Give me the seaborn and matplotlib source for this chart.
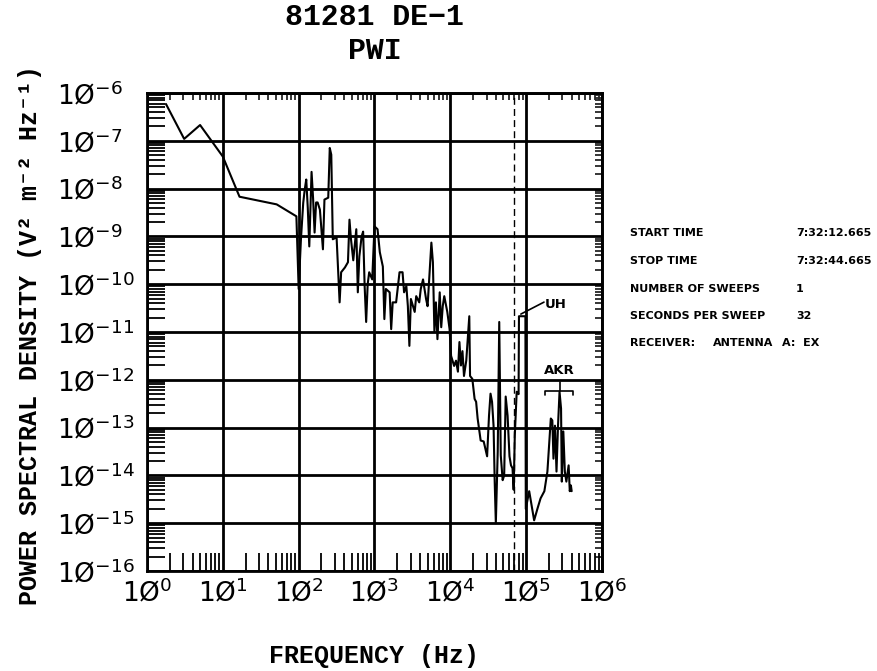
import numpy as np
import pandas as pd
import matplotlib
matplotlib.use("Agg")
import matplotlib.pyplot as plt
import seaborn as sns
from matplotlib.ticker import FixedLocator, LogLocator, NullFormatter, FixedFormatter

# ---- spectrum (log10 values) ----
log_freq = [
    0.25, 0.49, 0.70, 1.00, 1.22, 1.71, 1.97,
    2.00, 2.03, 2.06, 2.08, 2.10, 2.12, 2.14, 2.17, 2.19, 2.21, 2.23, 2.25, 2.28,
    2.32, 2.34, 2.39, 2.41, 2.43, 2.45, 2.50, 2.54, 2.56, 2.61, 2.65, 2.67, 2.69,
    2.72, 2.76, 2.78, 2.80, 2.83, 2.85, 2.87, 2.89, 2.91, 2.93, 2.97, 3.00,
    3.04, 3.07, 3.11, 3.13, 3.15, 3.20, 3.22, 3.24, 3.285, 3.33, 3.37, 3.39, 3.42,
    3.44, 3.46, 3.48, 3.53, 3.55, 3.59, 3.61, 3.64, 3.68, 3.70, 3.75, 3.77, 3.79,
    3.81, 3.83, 3.86, 3.88, 3.90, 3.92, 3.96, 3.99,
    4.01, 4.05, 4.075, 4.10, 4.12, 4.14, 4.16, 4.18, 4.21, 4.25, 4.26, 4.29, 4.32,
    4.34, 4.36, 4.40, 4.44, 4.485, 4.51, 4.53, 4.55, 4.57, 4.585, 4.60, 4.625,
    4.645, 4.665, 4.69, 4.71, 4.73, 4.755, 4.78, 4.80, 4.82, 4.835, 4.85, 4.875,
    4.90, 4.905, 4.99, 4.995,
    5.04, 5.105, 5.15, 5.19, 5.24, 5.26, 5.28, 5.325, 5.345, 5.36, 5.38, 5.40,
    5.42, 5.44, 5.46, 5.47, 5.49, 5.51, 5.53, 5.56, 5.575, 5.59, 5.60,
]
log_psd = [
    -6.23, -6.96, -6.67, -7.33, -8.17, -8.33, -8.58,
    -10.10, -9.06, -8.30, -8.02, -7.81, -8.40, -9.21, -7.65, -8.20, -8.92, -8.29, -8.29, -8.44,
    -9.27, -8.23, -8.19, -7.15, -7.29, -9.06, -9.02, -10.38, -9.75, -9.65, -9.54, -8.65, -9.06,
    -9.50, -8.85, -10.17, -9.42, -9.00, -8.90, -10.04, -10.79, -10.00, -9.75, -9.90, -8.79,
    -8.85, -9.33, -9.63, -10.73, -10.10, -10.17, -10.94, -10.38, -10.38, -9.75, -9.75, -10.17, -10.04,
    -10.46, -11.29, -10.31, -10.58, -10.25, -10.38, -10.10, -9.90, -10.31, -10.46, -9.13, -9.54, -11.00,
    -10.38, -11.15, -10.17, -10.90, -10.46, -10.25, -10.58, -10.94,
    -11.50, -11.71, -11.60, -11.83, -11.21, -11.70, -11.40, -11.92, -11.60, -10.67, -11.92, -11.98, -12.40,
    -12.46, -12.81, -13.27, -13.29, -13.60, -12.75, -12.29, -12.46, -12.96, -14.13, -15.00, -13.50,
    -10.79, -13.58, -14.10, -14.00, -12.35, -12.75, -13.60, -13.79, -13.85, -14.30, -13.17, -12.25,
    -12.30, -10.67, -10.67, -14.70,
    -14.33, -14.94, -14.69, -14.48, -14.33, -14.13, -13.92, -12.81, -12.85, -13.65, -12.96, -13.92,
    -12.96, -12.25, -12.60, -14.13, -13.08, -13.92, -14.13, -13.79, -14.33, -14.21, -14.33,
]

x_decades = [0, 1, 2, 3, 4, 5, 6]
y_decades = [-16, -15, -14, -13, -12, -11, -10, -9, -8, -7, -6]

info_labels = ["START TIME", "STOP TIME", "NUMBER OF SWEEPS", "SECONDS PER SWEEP"]
info_values = ["7:32:12.665", "7:32:44.665", "1", "32"]

dashed_freq_log = 4.84

df = pd.DataFrame({"freq": 10 ** np.array(log_freq), "psd": 10 ** np.array(log_psd)})

sns.set_style("white")
plt.rcParams["font.family"] = ["DejaVu Sans"]

W, H = 878, 671
fig = plt.figure(figsize=(W / 100, H / 100), dpi=100)
L, R, T, B = 147, 602, 93, 571
ax = fig.add_axes([L / W, 1 - B / H, (R - L) / W, (B - T) / H])

sns.lineplot(data=df, x="freq", y="psd", sort=False, estimator=None,
             color="black", lw=1.5, ax=ax, zorder=3)

ax.set_xscale("log")
ax.set_yscale("log")
ax.set_xlim(10.0 ** x_decades[0], 10.0 ** x_decades[-1])
ax.set_ylim(10.0 ** y_decades[0], 10.0 ** y_decades[-1])
ax.set_xlabel("")
ax.set_ylabel("")

xt = [10.0 ** e for e in x_decades]
yt = [10.0 ** e for e in y_decades]
ax.xaxis.set_major_locator(FixedLocator(xt))
ax.yaxis.set_major_locator(FixedLocator(yt))
ax.xaxis.set_major_formatter(FixedFormatter([f"1Ø$^{{{e}}}$" for e in x_decades]))
ax.yaxis.set_major_formatter(FixedFormatter([f"1Ø$^{{{e}}}$" for e in y_decades]))
ax.xaxis.set_minor_locator(LogLocator(base=10, subs=np.arange(2, 10), numticks=100))
ax.yaxis.set_minor_locator(LogLocator(base=10, subs=np.arange(2, 10), numticks=100))
ax.xaxis.set_minor_formatter(NullFormatter())
ax.yaxis.set_minor_formatter(NullFormatter())

ax.tick_params(which="major", length=0, labelsize=19, colors="black")
ax.tick_params(axis="x", which="major", pad=6)
ax.tick_params(axis="y", which="major", pad=65)
for lbl in ax.get_yticklabels():
    lbl.set_horizontalalignment("left")
ax.tick_params(which="minor", direction="in", length=13, width=1.3,
               bottom=True, left=True, top=False, right=False, color="black")

ax.grid(True, which="major", color="black", lw=2.0)
for s in ax.spines.values():
    s.set_linewidth(2.0)
    s.set_color("black")

# short inward ticks along the top and right edges
secx = ax.secondary_xaxis("top")
secx.xaxis.set_minor_locator(LogLocator(base=10, subs=np.arange(2, 10), numticks=100))
secx.xaxis.set_major_locator(FixedLocator(xt))
secx.tick_params(which="minor", direction="in", length=5, width=1.3)
secx.tick_params(which="major", length=0, labeltop=False)
secx.xaxis.set_major_formatter(NullFormatter())
secx.xaxis.set_minor_formatter(NullFormatter())
secy = ax.secondary_yaxis("right")
secy.yaxis.set_minor_locator(LogLocator(base=10, subs=np.arange(2, 10), numticks=100))
secy.yaxis.set_major_locator(FixedLocator(yt))
secy.tick_params(which="minor", direction="in", length=5, width=1.3)
secy.tick_params(which="major", length=0, labelright=False)
secy.yaxis.set_major_formatter(NullFormatter())
secy.yaxis.set_minor_formatter(NullFormatter())
for sa in (secx, secy):
    for s in sa.spines.values():
        s.set_linewidth(2.0)

ax.axvline(10 ** dashed_freq_log, color="black", lw=1.0, ls=(0, (5, 3)), zorder=2)

# feature labels
lab_font = dict(fontsize=9.5, fontweight="bold", color="black")
ax.plot([10 ** 4.93, 10 ** 5.235], [10 ** -10.625, 10 ** -10.375], color="black", lw=1.2, zorder=4)
ax.text(10 ** 5.245, 10 ** -10.42, "UH", ha="left", va="center", **lab_font)
ax.text(10 ** 5.434, 10 ** -11.81, "AKR", ha="center", va="center", **lab_font)
ax.plot([10 ** 5.25, 10 ** 5.25, 10 ** 5.62, 10 ** 5.62],
        [10 ** -12.31, 10 ** -12.23, 10 ** -12.23, 10 ** -12.31], color="black", lw=1.2, zorder=4)
ax.plot([10 ** 5.44, 10 ** 5.44], [10 ** -12.23, 10 ** -12.04], color="black", lw=1.2, zorder=4)

mono = ["Liberation Mono", "DejaVu Sans Mono"]
fig.text((L + R) / 2 / W, 1 - 17 / H, "81281 DE\u22121", ha="center", va="center",
         fontsize=21.5, fontweight="bold", family=mono, color="black")
fig.text((L + R) / 2 / W, 1 - 51 / H, "PWI", ha="center", va="center",
         fontsize=21.5, fontweight="bold", family=mono, color="black")
fig.text(374.5 / W, 1 - 656 / H, "FREQUENCY (Hz)", ha="center", va="center",
         fontsize=18, fontweight="bold", family=mono, color="black")
fig.text(30 / W, 1 - 335 / H, "POWER SPECTRAL DENSITY (V\u00b2 m\u207b\u00b2 Hz\u207b\u00b9)",
         ha="center", va="center", rotation=90, fontsize=18, fontweight="bold",
         family=mono, color="black")

info_font = dict(fontsize=8, fontweight="bold", color="black", va="center")
rows_y = [233.5, 261, 288.5, 316, 343.5]
for lab, val, yy in zip(info_labels, info_values, rows_y):
    fig.text(630 / W, 1 - yy / H, lab, ha="left", **info_font)
    fig.text(796 / W, 1 - yy / H, val, ha="left", **info_font)
fig.text(630 / W, 1 - rows_y[4] / H, "RECEIVER:", ha="left", **info_font)
fig.text(713 / W, 1 - rows_y[4] / H, "ANTENNA", ha="left", **info_font)
fig.text(782 / W, 1 - rows_y[4] / H, "A:  EX", ha="left", **info_font)

fig.savefig("out.png", dpi=100, facecolor="white")
